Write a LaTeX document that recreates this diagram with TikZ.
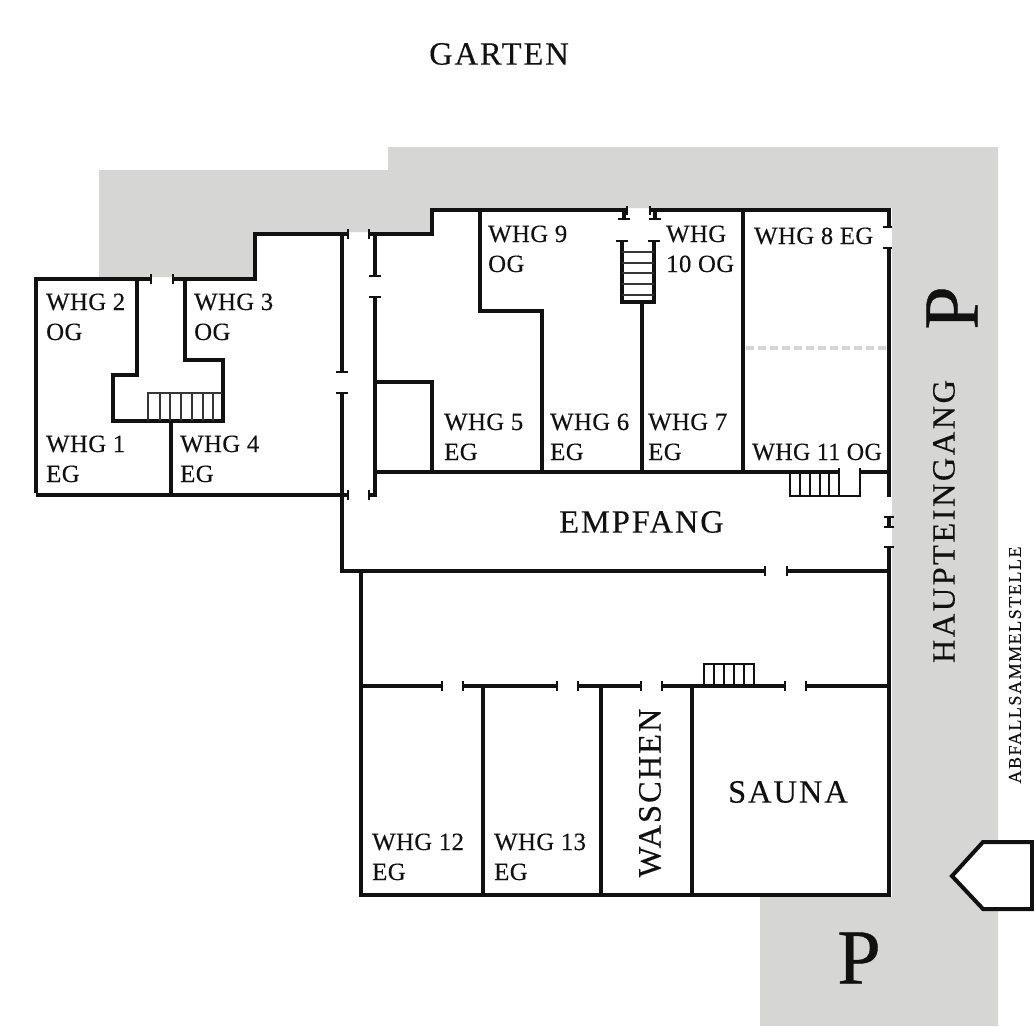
\documentclass[tikz,border=0pt]{standalone}
\usepackage{fontspec}
\setmainfont{Liberation Serif}
\definecolor{yard}{HTML}{D6D6D5}
\definecolor{ink}{HTML}{111111}
\newfontfamily\roomfont[LetterSpace=1.6,FakeBold=0.25]{Liberation Serif}
\newfontfamily\spacedfont[LetterSpace=6,FakeBold=0.3]{Liberation Serif}
\newfontfamily\widefont[LetterSpace=7.5,FakeBold=0.3]{Liberation Serif}
\newfontfamily\smallfont[LetterSpace=8.6,FakeBold=0.15]{Liberation Serif}
\newfontfamily\bigpfont[FakeBold=0.5]{Liberation Serif}
\tikzset{
  wall/.style={draw=ink,line width=4.1pt,line cap=butt,line join=miter},
  tick/.style={draw=ink,line width=2pt},
  tread/.style={draw=ink!85,line width=1.2pt},
  lab/.style={anchor=base west,inner sep=0pt,font=\roomfont\fontsize{24.8}{24.8}\selectfont,text=ink},
  bigl/.style={inner sep=0pt,text=ink,font=\spacedfont\fontsize{32.5}{32.5}\selectfont},
}
\begin{document}
\begin{tikzpicture}[x=1pt,y=-1pt]
\useasboundingbox (0,0) rectangle (1034,1026);
\fill[white] (0,0) rectangle (1034,1026);
\fill[yard] (99,170)--(388,170)--(388,147)--(998,147)--(998,1026)--(760,1026)--(760,897)--(892,897)--(892,208)--(430,208)--(430,232)--(254,232)--(254,277)--(99,277)--cycle;

% west wing
\draw[wall] (36,493)--(36,279)--(151,279);
\draw[wall] (173,279)--(255,279)--(255,234)--(348,234);
\draw[wall] (36,495)--(348,495);
\draw[wall] (137,279)--(137,375)--(113,375)--(113,421)--(223,421)--(223,360)--(185,360)--(185,279);
\draw[wall] (171,421)--(171,495);
\draw[tick] (151,274)--(151,284) (173,274)--(173,284);
\draw[tick] (348,229)--(348,239) (348,490)--(348,500);
\draw[tread] (148,421)--(148,393)--(222,393);
\foreach \sx in {160,170,181,192,203,213}{\draw[tread] (\sx,393)--(\sx,421);}

% corridor walls
\draw[wall] (342,234)--(342,372);
\draw[wall] (342,393)--(342,573);
\draw[tick] (336,372)--(348,372) (336,393)--(348,393);
\draw[wall] (375,234)--(375,276);
\draw[wall] (375,297)--(375,495)--(369,495);
\draw[tick] (369,276)--(381,276) (369,297)--(381,297);
\draw[tick] (369,490)--(369,500) (369,229)--(369,239);

% north block
\draw[wall] (369,234)--(432,234)--(432,210)--(627,210);
\draw[wall] (650,210)--(889,210)--(889,227);
\draw[tick] (627,206)--(627,215) (650,206)--(650,215);
\draw[wall] (624,210)--(624,219) (655,210)--(655,219);
\draw[tick] (618,219)--(630,219) (649,219)--(661,219);
\draw[tick] (883,227)--(892,227) (883,248)--(892,248);
\draw[wall] (889,248)--(889,497);
\draw[wall] (889,547)--(889,897);
\draw[wall] (889,517)--(889,527);
\draw[tick] (884,517)--(894,517) (884,527)--(894,527) (884,547)--(894,547);
\draw[wall] (622,241)--(622,302)--(654,302)--(654,241);
\draw[tick] (616,241)--(628,241) (648,241)--(660,241);
\foreach \sy in {252,263,273,284,295}{\draw[tread] (622,\sy)--(654,\sy);}
\draw[wall] (642,302)--(642,472);
\draw[wall] (480,210)--(480,311)--(542,311)--(542,472);
\draw[wall] (743,210)--(743,472);
\draw[draw=yard,line width=3.6pt,dash pattern=on 8pt off 4pt] (746,348)--(887,348);
\draw[wall] (375,382)--(432,382)--(432,472);
\draw[wall] (375,472)--(839,472);
\draw[wall] (860,472)--(889,472);
\draw[tick] (839,468)--(839,476) (860,468)--(860,476);
\draw[line width=1.8pt,draw=ink] (790,472)--(790,496)--(860,496)--(860,472);
\foreach \sx in {800,810,820,829,839}{\draw[line width=1.5pt,draw=ink] (\sx,472)--(\sx,496);}

% south block
\draw[wall] (340,571)--(765,571);
\draw[wall] (787,571)--(889,571);
\draw[tick] (765,566)--(765,576) (787,566)--(787,576);
\draw[wall] (361,571)--(361,895)--(889,895);
\draw[wall] (361,686)--(442,686);
\draw[wall] (463,686)--(557,686);
\draw[wall] (578,686)--(641,686);
\draw[wall] (662,686)--(785,686);
\draw[wall] (806,686)--(889,686);
\draw[tick] (442,681)--(442,691) (463,681)--(463,691) (557,681)--(557,691) (578,681)--(578,691) (641,681)--(641,691) (662,681)--(662,691) (785,681)--(785,691) (806,681)--(806,691);
\draw[wall] (483,686)--(483,895);
\draw[wall] (601,686)--(601,895);
\draw[wall] (692,686)--(692,895);
\draw[line width=1.5pt,draw=ink] (704,686)--(704,664)--(754,664)--(754,686);
\foreach \sx in {714,724,734,744}{\draw[line width=1.5pt,draw=ink] (\sx,664)--(\sx,686);}

% waste point
\draw[draw=ink,fill=white,line width=4pt,line join=miter] (952,876)--(983,842)--(1032,842)--(1032,909)--(983,909)--cycle;

% labels
\node[lab] (w2a) at (46,310) {WHG 2};
\node[lab] (w2b) at (46,340) {OG};
\node[lab] (w3a) at (194,310) {WHG 3};
\node[lab] (w3b) at (194,340) {OG};
\node[lab] (w1a) at (46,452) {WHG 1};
\node[lab] (w1b) at (46,482) {EG};
\node[lab] (w4a) at (180,452) {WHG 4};
\node[lab] (w4b) at (180,482) {EG};
\node[lab] (w9a) at (488,242) {WHG 9};
\node[lab] (w9b) at (488,272) {OG};
\node[lab] (w10a) at (666,242) {WHG};
\node[lab] (w10b) at (666,272) {10 OG};
\node[lab] (w8) at (754,244) {WHG 8 EG};
\node[lab] (w5a) at (444,430) {WHG 5};
\node[lab] (w5b) at (444,460) {EG};
\node[lab] (w6a) at (550,430) {WHG 6};
\node[lab] (w6b) at (550,460) {EG};
\node[lab] (w7a) at (648,430) {WHG 7};
\node[lab] (w7b) at (648,460) {EG};
\node[lab,xscale=0.97] (w11) at (752,460) {WHG 11 OG};
\node[lab] (w12a) at (372,850) {WHG 12};
\node[lab] (w12b) at (372,880) {EG};
\node[lab] (w13a) at (494,850) {WHG 13};
\node[lab] (w13b) at (494,880) {EG};
\node[bigl] (garten) at (499,54) {GARTEN};
\node[bigl] (empfang) at (641.5,522) {EMPFANG};
\node[bigl] (sauna) at (788,792) {SAUNA};
\node[bigl,rotate=90] (waschen) at (650,793) {WASCHEN};
\node[bigl,rotate=90,font=\widefont\fontsize{32.5}{32.5}\selectfont] (haupt) at (944,521.5) {HAUPTEINGANG};
\node[inner sep=0pt,text=ink,rotate=90,font=\smallfont\fontsize{18}{18}\selectfont] (abfall) at (1015,665) {ABFALLSAMMELSTELLE};
\node[inner sep=0pt,text=ink,font=\bigpfont\fontsize{78}{78}\selectfont] (p1) at (859,958) {P};
\node[inner sep=0pt,text=ink,rotate=90,font=\bigpfont\fontsize{78}{78}\selectfont] (p2) at (952,308) {P};
\end{tikzpicture}
\end{document}
